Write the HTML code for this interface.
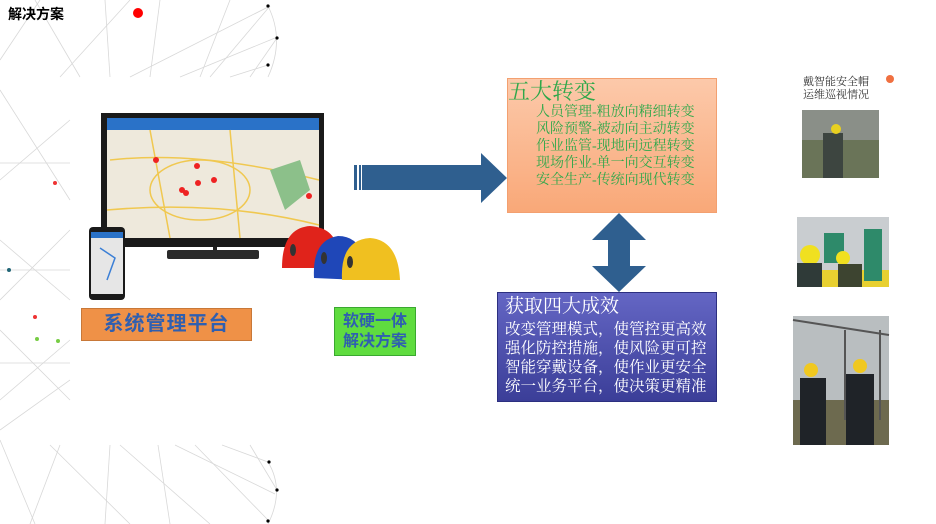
<!DOCTYPE html>
<html><head><meta charset="utf-8"><style>
body{margin:0;width:936px;height:524px;overflow:hidden;background:#fff;font-family:"Liberation Serif","Noto Serif CJK SC",serif;}
.a{position:absolute;}
.sans{font-family:"Liberation Sans","Noto Sans CJK SC",sans-serif;}
</style></head><body>
<svg class="a" style="left:0;top:0" width="936" height="524">
<g stroke="#d8d8d8" stroke-width="0.8" fill="none">
<line x1="0" y1="60" x2="40" y2="0"/><line x1="35" y1="0" x2="80" y2="77"/><line x1="105" y1="0" x2="110" y2="77"/>
<line x1="60" y1="77" x2="130" y2="0"/><line x1="160" y1="0" x2="150" y2="77"/><line x1="130" y1="77" x2="270" y2="6"/>
<line x1="180" y1="77" x2="275" y2="38"/><line x1="230" y1="0" x2="200" y2="77"/><line x1="210" y1="77" x2="270" y2="6"/>
<line x1="230" y1="77" x2="268" y2="65"/><line x1="250" y1="77" x2="277" y2="38"/>
<path d="M268 6 Q285 40 268 77"/>
<line x1="0" y1="90" x2="70" y2="200"/><line x1="0" y1="180" x2="70" y2="120"/><line x1="0" y1="300" x2="70" y2="230"/>
<line x1="0" y1="240" x2="70" y2="300"/><line x1="0" y1="330" x2="70" y2="400"/><line x1="0" y1="400" x2="70" y2="340"/>
<line x1="0" y1="163" x2="70" y2="163"/><line x1="0" y1="363" x2="70" y2="363"/><line x1="0" y1="270" x2="70" y2="270"/>
<line x1="0" y1="430" x2="70" y2="380"/><line x1="0" y1="440" x2="35" y2="524"/><line x1="60" y1="445" x2="30" y2="524"/>
<line x1="50" y1="445" x2="130" y2="524"/><line x1="110" y1="445" x2="105" y2="524"/><line x1="120" y1="445" x2="210" y2="524"/>
<line x1="158" y1="445" x2="170" y2="524"/><line x1="175" y1="445" x2="275" y2="494"/><line x1="195" y1="445" x2="268" y2="520"/>
<line x1="222" y1="445" x2="268" y2="462"/><line x1="250" y1="445" x2="277" y2="490"/>
<path d="M268 462 Q285 490 268 524"/>
</g>
<g fill="#000"><circle cx="268" cy="6" r="1.6"/><circle cx="277" cy="38" r="1.6"/><circle cx="268" cy="65" r="1.6"/>
<circle cx="269" cy="462" r="1.6"/><circle cx="277" cy="490" r="1.6"/><circle cx="268" cy="521" r="1.6"/></g>
<circle cx="138" cy="13" r="5" fill="#f00"/>
<circle cx="55" cy="183" r="2" fill="#e33"/><circle cx="35" cy="317" r="2" fill="#e33"/><circle cx="9" cy="270" r="2" fill="#267"/>
<circle cx="37" cy="339" r="2" fill="#7c4"/><circle cx="58" cy="341" r="2" fill="#7c4"/>
<!-- monitor -->
<rect x="101" y="113" width="223" height="134" fill="#1a1a1a"/>
<rect x="107" y="118" width="212" height="120" fill="#eee9dc"/>
<rect x="107" y="118" width="212" height="12" fill="#2a72c8"/>
<g stroke="#f0c850" stroke-width="1.5" fill="none"><path d="M110 160 Q200 150 319 180"/><path d="M150 130 L170 238"/><path d="M230 130 L240 238"/><ellipse cx="200" cy="190" rx="50" ry="30"/><path d="M107 210 Q220 200 319 225"/></g>
<path d="M270 170 L300 160 L310 190 L285 210 Z" fill="#8cc08a"/>
<g fill="#e22"><circle cx="156" cy="160" r="3"/><circle cx="197" cy="166" r="3"/><circle cx="214" cy="180" r="3"/><circle cx="198" cy="183" r="3"/><circle cx="182" cy="190" r="3"/><circle cx="186" cy="193" r="3"/><circle cx="309" cy="196" r="3"/></g>
<rect x="213" y="247" width="4" height="6" fill="#222"/>
<rect x="167" y="250" width="92" height="9" rx="2" fill="#2a2a2a"/>
<!-- phone -->
<rect x="89" y="227" width="36" height="73" rx="4" fill="#1a1a1a"/>
<rect x="91" y="232" width="32" height="62" fill="#e6e6e6"/>
<rect x="91" y="232" width="32" height="6" fill="#2a72c8"/>
<path d="M100 248 L115 258 L107 280" stroke="#3b7fd6" stroke-width="1.5" fill="none"/>
<!-- helmets -->
<path d="M282 268 Q282 228 310 226 Q338 228 338 256 L342 268 Z" fill="#e0231b"/>
<path d="M314 278 Q312 240 338 236 Q362 236 364 266 L360 280 Z" fill="#1f47b8"/>
<path d="M342 280 Q340 240 370 238 Q398 240 400 280 Z" fill="#f0c020"/>
<ellipse cx="293" cy="250" rx="3" ry="6" fill="#333"/><ellipse cx="324" cy="258" rx="3" ry="6" fill="#333"/><ellipse cx="350" cy="262" rx="3" ry="6" fill="#333"/>
<!-- right arrow -->
<rect x="354" y="165" width="3" height="25" fill="#2f5f8f"/><rect x="359" y="165" width="2" height="25" fill="#2f5f8f"/>
<path d="M362 165 H481 V153 L507 178 L481 203 V190 H362 Z" fill="#2f5f8f"/>
<!-- double arrow -->
<path d="M619 213 L646 240 H630 V266 H646 L619 292 L592 266 H608 V240 H592 Z" fill="#2f5f8f"/>
<!-- photos -->
<rect x="802" y="110" width="77" height="68" fill="#6a7458"/><rect x="802" y="110" width="77" height="30" fill="#8a8f88"/>
<rect x="823" y="133" width="20" height="45" fill="#3d4540"/><circle cx="836" cy="129" r="5" fill="#e8d020"/>
<rect x="797" y="217" width="92" height="70" fill="#c9cdd0"/><rect x="797" y="270" width="92" height="17" fill="#e8d030"/>
<rect x="824" y="233" width="20" height="30" fill="#2e8a6a"/><rect x="864" y="229" width="18" height="52" fill="#2e8a6a"/>
<circle cx="810" cy="255" r="10" fill="#f0e020"/><rect x="797" y="263" width="25" height="24" fill="#2f3a38"/>
<circle cx="843" cy="258" r="7" fill="#f0e020"/><rect x="838" y="264" width="24" height="23" fill="#3d4430"/>
<rect x="793" y="316" width="96" height="129" fill="#b9bec0"/><rect x="793" y="400" width="96" height="45" fill="#6d6a4f"/>
<g stroke="#555" stroke-width="2"><line x1="793" y1="320" x2="889" y2="335"/><line x1="845" y1="330" x2="845" y2="420"/><line x1="880" y1="330" x2="880" y2="420"/></g>
<rect x="800" y="378" width="26" height="67" fill="#1f2328"/><circle cx="811" cy="370" r="7" fill="#f0c820"/>
<rect x="846" y="374" width="28" height="71" fill="#1f2328"/><circle cx="860" cy="366" r="7" fill="#f0c820"/>
<circle cx="890" cy="79" r="4" fill="#f07040"/>
</svg>
<div class="a sans" style="left:8px;top:4px;font-size:14px;font-weight:bold;">解决方案</div>
<div class="a sans" style="left:81px;top:308px;width:169px;height:31px;background:#ef9147;border:1px solid #c87838;text-align:center;line-height:31px;font-size:20px;font-weight:bold;color:#2f5fb0;letter-spacing:1px;">系统管理平台</div>
<div class="a sans" style="left:334px;top:307px;width:82px;height:47px;background:#5fdc3f;border:1px solid #3aa830;text-align:center;font-size:16px;line-height:20px;padding-top:4px;box-sizing:border-box;height:49px;font-weight:bold;color:#2f5fb0;">软硬一体<br>解决方案</div>
<div class="a" style="left:507px;top:78px;width:208px;height:133px;background:linear-gradient(#fcc9aa,#f9a878);border:1px solid #f3a070;"></div>
<div class="a" style="left:508px;top:79px;font-size:22px;color:#2fa84a;line-height:26px;">五大转变</div>
<div class="a" style="left:536px;top:104px;font-size:14px;line-height:17px;color:#2fa84a;">人员管理-粗放向精细转变<br>风险预警-被动向主动转变<br>作业监管-现地向远程转变<br>现场作业-单一向交互转变<br>安全生产-传统向现代转变</div>
<div class="a" style="left:497px;top:292px;width:218px;height:108px;background:linear-gradient(#6466c4,#3b3e98);border:1px solid #2c2f80;"></div>
<div class="a" style="left:505px;top:295px;font-size:19px;color:#fff;line-height:24px;">获取四大成效</div>
<div class="a" style="left:505px;top:320px;font-size:15.5px;line-height:19px;color:#fff;">改变管理模式，使管控更高效<br>强化防控措施，使风险更可控<br>智能穿戴设备，使作业更安全<br>统一业务平台，使决策更精准</div>
<div class="a" style="left:803px;top:76px;font-size:11px;line-height:13px;color:#333;">戴智能安全帽<br>运维巡视情况</div>
</body></html>
